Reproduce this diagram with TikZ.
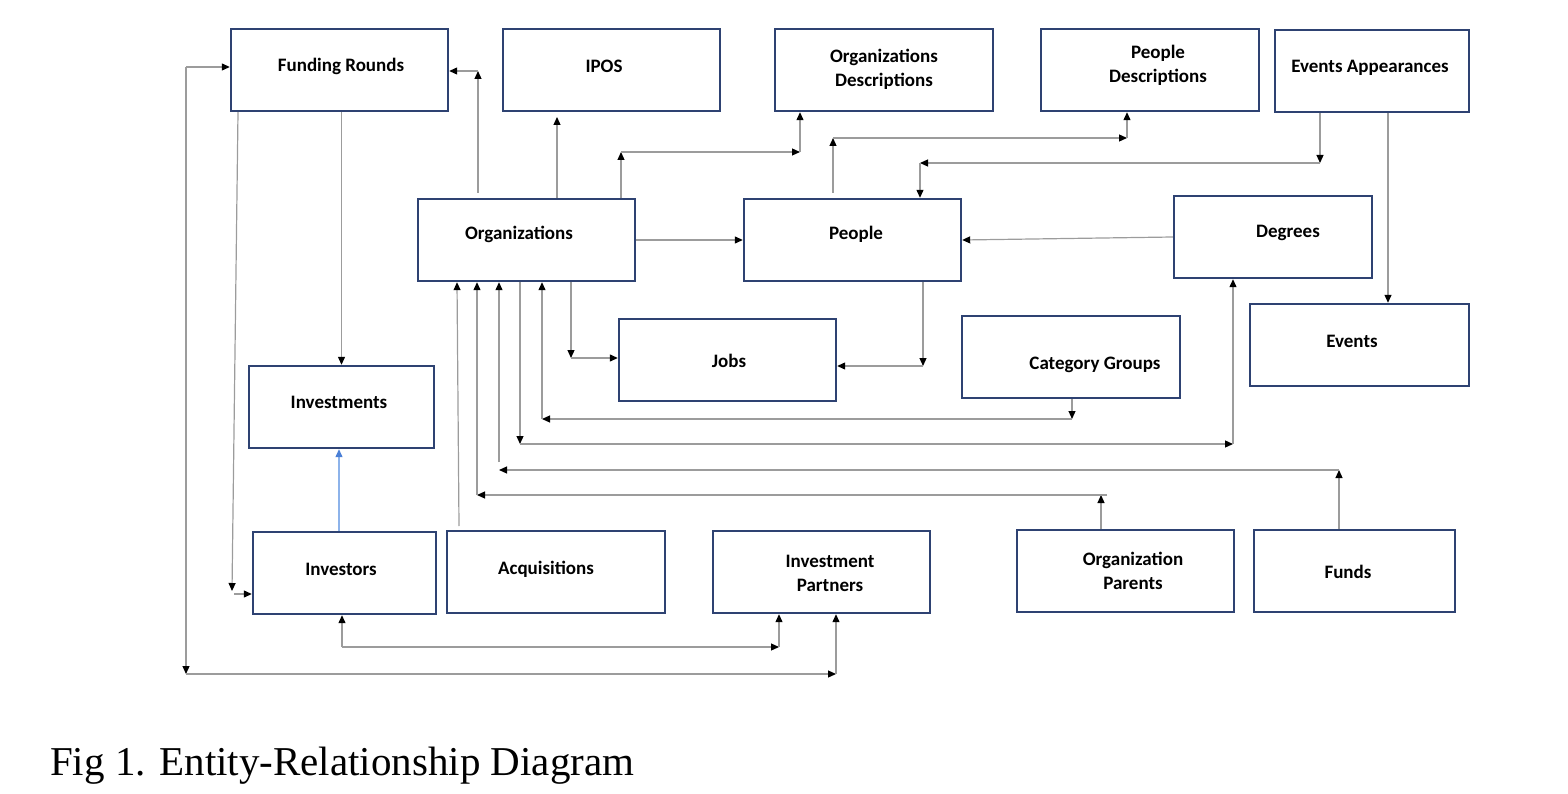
\documentclass[tikz,border=0pt]{standalone}
\usepackage{fontspec}
\setmainfont{Liberation Serif}
\newfontfamily\boxfont{Carlito}
\usetikzlibrary{arrows.meta}
\definecolor{boxblue}{HTML}{2E4272}
\definecolor{linkgray}{HTML}{9C9C9C}
\definecolor{linkblue}{HTML}{8DB3EA}
\definecolor{tipblue}{HTML}{4A7FD6}
\tikzset{
  entity/.style={draw=boxblue, line width=2.4pt, minimum height=82pt, inner sep=0pt},
  lbl/.style={font=\boxfont\bfseries\fontsize{19}{24}\selectfont, align=center, inner sep=0pt},
  link/.style={draw=linkgray, line width=1.2pt, ->},
}
\begin{document}
\begin{tikzpicture}[>={Triangle[length=8pt,width=7pt,color=black]},x=1pt,y=-1pt]
            \useasboundingbox (0,0) rectangle (1568,794);
            % draw the tables
            \foreach \n/\x/\y/\w/\tx/\ty/\t in {
                fr/339.5/70/217/341/66/{Funding Rounds},
                ipos/611.5/70/217/604/66/{IPOS},
                odesc/884/70/218/884/69/{Organizations\\Descriptions},
                pdesc/1150/70/218/1158/65/{People\\Descriptions},
                evapp/1372/71/194/1370/68/{Events Appearances},
                org/526.5/240/217/519/234/{Organizations},
                ppl/852.5/240/217/856/234/{People},
                deg/1273/237/198/1288/233/{Degrees},
                evts/1359.5/345/219/1352/341/{Events},
                jobs/727.5/360/217/729/361/{Jobs},
                catg/1071/357/218/1095/365/{Category Groups},
                invmt/341.5/407/185/339/402/{Investments},
                invst/344.5/573/183/341/569/{Investors},
                acq/556/572/218/546/569/{Acquisitions},
                ipart/821.5/572/217/830/573/{Investment\\Partners},
                opar/1125.5/571/217/1133/571/{Organization\\Parents},
                funds/1354.5/571/201/1348/572/{Funds}}
            {
                \node[entity,minimum width=\w pt] (\n) at (\x,\y) {};
                \node[lbl] (\n-t) at (\tx,\ty) {\t};
            }
            % draw the links above the tables
            \draw[link] (186,67) -- (fr.west |- 0,67);
            \draw[link] (478,193) -- (478,71);
            \draw[link] (478,71) -- (fr.east |- 0,71);
            \draw[link] (557,0 |- org.north) -- (557,117);
            \draw[link] (621,0 |- org.north) -- (621,152);
            \draw[link] (621,152) -- (800,152);
            \draw[link] (800,152) -- (800,0 |- odesc.south);
            \draw[link] (833,193) -- (833,138);
            \draw[link] (833,138) -- (1127,138);
            \draw[link] (1127,138) -- (1127,0 |- pdesc.south);
            \draw[link] (1320,0 |- evapp.south) -- (1320,163);
            \draw[link] (1320,163) -- (920,163);
            \draw[link] (920,163) -- (920,0 |- ppl.north);
            \draw[link] (1388,0 |- evapp.south) -- (1388,0 |- evts.north);
            \draw[link] (org.east) -- (ppl.west);
            \draw[link] (deg.west) -- (ppl.east);
            % draw the links below organizations
            \draw[link] (571,0 |- org.south) -- (571,358);
            \draw[link] (571,358) -- (jobs.west |- 0,358);
            \draw[link] (923,0 |- ppl.south) -- (923,366);
            \draw[link] (923,366) -- (jobs.east |- 0,366);
            \draw[link] (1072,0 |- catg.south) -- (1072,419);
            \draw[link] (1072,419) -- (542,419);
            \draw[link] (542,419) -- (542,0 |- org.south);
            \draw[link] (520,0 |- org.south) -- (520,444);
            \draw[link] (520,444) -- (1233,444);
            \draw[link] (1233,444) -- (1233,0 |- deg.south);
            \draw[link] (1339,0 |- funds.north) -- (1339,470);
            \draw[link] (1339,470) -- (499,470);
            \draw[link] (499,462) -- (499,0 |- org.south);
            \draw[link] (1101,0 |- opar.north) -- (1101,495);
            \draw[link] (1107,495) -- (477,495);
            \draw[link] (477,495) -- (477,0 |- org.south);
            \draw[link] (459,526) -- (457,0 |- org.south);
            % draw the links of the investors
            \draw[link] (invmt.north |- fr.south) -- (invmt.north);
            \draw[link,draw=linkblue,-{Triangle[length=8pt,width=7pt,color=tipblue]}] (339,0 |- invst.north) -- (339,0 |- invmt.south);
            \draw[link] (238,0 |- fr.south) -- (232,591);
            \draw[link] (234,594) -- (invst.west |- 0,594);
            \draw[link] (342,647) -- (342,0 |- invst.south);
            \draw[link] (342,647) -- (779,647);
            \draw[link] (779,647) -- (779,0 |- ipart.south);
            \draw[link] (186,67) -- (186,674);
            \draw[link] (186,674) -- (836,674);
            \draw[link] (836,674) -- (836,0 |- ipart.south);
            % caption
            \node[anchor=base west,inner sep=0pt,font=\fontsize{41}{48}\selectfont] (caption) at (50,775) {Fig 1. Entity-Relationship Diagram};
        \end{tikzpicture}
\end{document}
